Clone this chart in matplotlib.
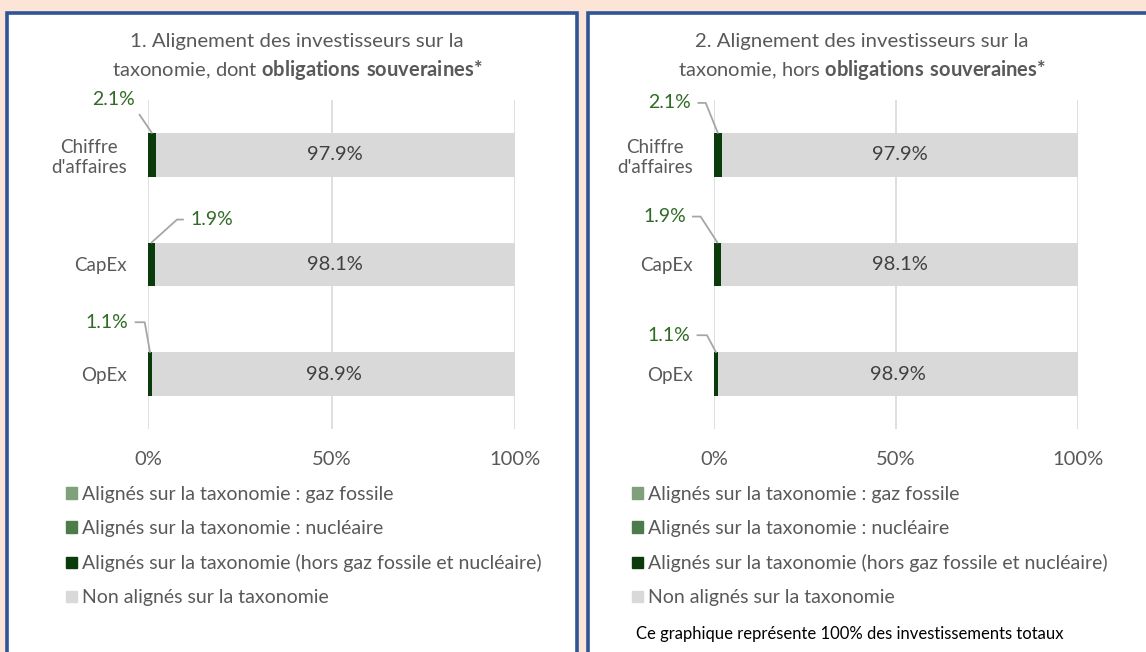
import matplotlib.pyplot as plt
from matplotlib.patches import Rectangle, Patch

plt.rcParams['font.family'] = ['Lato', 'DejaVu Sans']
plt.rcParams['mathtext.fontset'] = 'custom'
plt.rcParams['mathtext.rm'] = 'Lato'
plt.rcParams['mathtext.bf'] = 'Lato:bold'

W, H = 1146, 652

# data
categories = ["Chiffre\nd'affaires", "CapEx", "OpEx"]
gaz_fossile = [0.0, 0.0, 0.0]
nucleaire = [0.0, 0.0, 0.0]
alignes_autres = [2.1, 1.9, 1.1]
non_alignes = [97.9, 98.1, 98.9]
xticks = [0, 50, 100]
xtick_labels = ['0%', '50%', '100%']
titles = [
    ("1. Alignement des investisseurs sur la",
     r"taxonomie, dont $\mathbf{obligations\ souveraines{*}}$"),
    ("2. Alignement des investisseurs sur la",
     r"taxonomie, hors $\mathbf{obligations\ souveraines{*}}$"),
]
legend_labels = [
    "Alignés sur la taxonomie : gaz fossile",
    "Alignés sur la taxonomie : nucléaire",
    "Alignés sur la taxonomie (hors gaz fossile et nucléaire)",
    "Non alignés sur la taxonomie",
]
footnote = "Ce graphique représente 100% des investissements totaux"

c_gaz = '#7FA07A'
c_nuc = '#4E7B4A'
c_autres = '#0B3A0B'
c_non = '#D9D9D9'
c_txt = '#595959'
c_lbl = '#2F6B24'
c_lead = '#A6A6A6'

fig = plt.figure(figsize=(W / 100, H / 100), dpi=100, facecolor='#FCE4D6')


def box(x0, y0, x1, y1):
    return [x0 / W, 1 - y1 / H, (x1 - x0) / W, (y1 - y0) / H]


# panels
for x0, x1 in [(7, 577), (588, 1170)]:
    b = box(x0, 13, x1, 680)
    fig.add_artist(Rectangle((b[0], b[1]), b[2], b[3], transform=fig.transFigure,
                             facecolor='white', edgecolor='#2F5597', lw=2.6, zorder=0))

panels = [
    dict(ax=(148, 100, 515, 429), title_x=297, leg_x=66,
         # text offset (px), relpos, connectionstyle
         ann=[((-38, 33), (1, 0), 'arc3'),
              ((60, 23), (0, 0.5), 'angle,angleA=180,angleB=42,rad=0'),
              ((-43, 30), (1, 0.5), 'angle,angleA=0,angleB=100,rad=0')]),
    dict(ax=(714, 100, 1078, 429), title_x=862, leg_x=632,
         ann=[((-48, 30), (1, 0.5), 'angle,angleA=0,angleB=112,rad=0'),
              ((-53, 26), (1, 0.5), 'angle,angleA=0,angleB=123,rad=0'),
              ((-47, 17), (1, 0.5), 'angle,angleA=0,angleB=118,rad=0')]),
]

ypos = list(range(len(categories)))
for k, p in enumerate(panels):
    ax = fig.add_axes(box(*p['ax']))
    ax.set_facecolor('none')
    left = [0.0] * len(categories)
    for vals, col in [(gaz_fossile, c_gaz), (nucleaire, c_nuc),
                      (alignes_autres, c_autres), (non_alignes, c_non)]:
        ax.barh(ypos, vals, left=left, height=0.4, color=col, zorder=3)
        left = [a + b for a, b in zip(left, vals)]

    for i in ypos:
        ax.text(alignes_autres[i] + non_alignes[i] / 2, i, f'{non_alignes[i]:.1f}%',
                ha='center', va='center', fontsize=14.5, color='#404040', zorder=4)
        off, rel, cs = p['ann'][i]
        ax.annotate(f'{alignes_autres[i]:.1f}%', xy=(alignes_autres[i] / 2, i - 0.2),
                    xytext=off, textcoords='offset pixels', ha='center', va='center',
                    fontsize=14, color=c_lbl,
                    arrowprops=dict(arrowstyle='-', color=c_lead, lw=1.3,
                                    connectionstyle=cs, relpos=rel,
                                    shrinkA=3, shrinkB=0))

    ax.set_xlim(0, 100)
    ax.set_ylim(2.5, -0.5)
    ax.set_xticks(xticks)
    ax.set_xticklabels(xtick_labels)
    ax.set_yticks(ypos)
    ax.set_yticklabels(categories, multialignment='center', fontsize=13.5)
    ax.tick_params(length=0, labelcolor=c_txt)
    ax.tick_params(axis='x', pad=16, labelsize=14.5)
    ax.tick_params(axis='y', pad=15)
    for s in ax.spines.values():
        s.set_visible(False)
    ax.grid(axis='x', color='#D9D9D9', lw=1.2, zorder=0)
    ax.set_axisbelow(True)

    l1, l2 = titles[k]
    fig.text(p['title_x'] / W, 1 - 42 / H, l1, ha='center', va='center',
             fontsize=14.7, color=c_txt)
    fig.text(p['title_x'] / W, 1 - 70 / H, l2, ha='center', va='center',
             fontsize=14.5, color=c_txt)

    handles = [Patch(color=c) for c in (c_gaz, c_nuc, c_autres, c_non)]
    fig.legend(handles, legend_labels, loc='upper left',
               bbox_to_anchor=(p['leg_x'] / W, 1 - 486 / H), frameon=False,
               fontsize=14, labelcolor=c_txt, handlelength=0.55, handleheight=0.55,
               handletextpad=0.25, labelspacing=0.88, borderpad=0, borderaxespad=0)

fig.text(636 / W, 1 - 634 / H, footnote, ha='left', va='center', fontsize=12,
         color='black')

fig.savefig('out.png', dpi=100, facecolor=fig.get_facecolor())
